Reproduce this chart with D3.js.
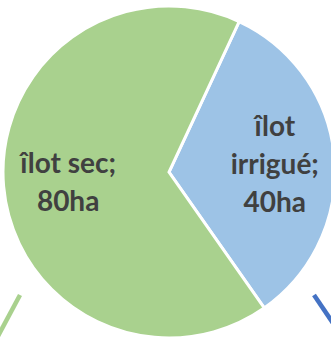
<!DOCTYPE html>
<html>
<head>
<meta charset="utf-8">
<script src="https://cdn.jsdelivr.net/npm/d3@7"></script>
<style>
  html, body { margin: 0; padding: 0; background: #fff; overflow: hidden; }
  svg { display: block; }
</style>
</head>
<body>
<svg id="chart" width="331" height="337"></svg>
<script>
// Surface of each plot, in hectares
const categories = ["îlot irrigué", "îlot sec"];
const values = [40, 80];
const units = "ha";

const colors = ["#9DC3E6", "#A9D18E"];

const width = 331, height = 337;
const cx = 169, cy = 172, radius = 166;
const startDeg = 25;

const svg = d3.select("#chart");
const g = svg.append("g").attr("transform", `translate(${cx},${cy})`);

const data = categories.map((c, i) => ({ category: c, value: values[i], color: colors[i] }));

const pie = d3.pie()
  .sort(null)
  .value(d => d.value)
  .startAngle(startDeg * Math.PI / 180)
  .endAngle((startDeg + 360) * Math.PI / 180);

const arcs = pie(data);

const arc = d3.arc().innerRadius(0).outerRadius(radius);

g.selectAll("path.slice")
  .data(arcs)
  .join("path")
  .attr("class", "slice")
  .attr("d", arc)
  .attr("fill", d => d.data.color)
  .attr("stroke", "#fff")
  .attr("stroke-width", 3)
  .attr("stroke-linejoin", "miter");

// Label placement: radial fraction per slice, lines stacked around the centroid
const labelFrac = [0.64, 0.61];
const lineH = 38;
const fontSize = 28;

arcs.forEach((d, i) => {
  const r = radius * labelFrac[i];
  const [lx, ly] = d3.arc().innerRadius(r).outerRadius(r).centroid(d);
  const name = d.data.category;
  const parts = name.split(" ");
  let lines;
  if (i === 0) lines = [parts[0], parts.slice(1).join(" ") + ";", d.data.value + units];
  else lines = [name + ";", d.data.value + units];
  const t = g.append("text")
    .attr("text-anchor", "middle")
    .attr("font-family", "Lato, 'Open Sans', sans-serif")
    .attr("font-weight", "bold")
    .attr("font-size", fontSize)
    .attr("fill", "#404040");
  const n = lines.length;
  lines.forEach((s, k) => {
    t.append("tspan")
      .attr("x", lx)
      .attr("y", ly + 1 + (k - (n - 1) / 2) * lineH)
      .attr("dy", "0.35em")
      .text(s);
  });
});

// Connector stubs entering from below the pie (offsets from the pie centre)
const stubs = [
  { color: "#A9D18E", x1: -149, y1: 123, x2: -172, y2: 166 },
  { color: "#4472C4", x1: 145, y1: 123, x2: 168, y2: 157 }
];
g.selectAll("line.stub")
  .data(stubs)
  .join("line")
  .attr("class", "stub")
  .attr("x1", d => d.x1).attr("y1", d => d.y1)
  .attr("x2", d => d.x2).attr("y2", d => d.y2)
  .attr("stroke", d => d.color)
  .attr("stroke-width", 4.5);
</script>
</body>
</html>
